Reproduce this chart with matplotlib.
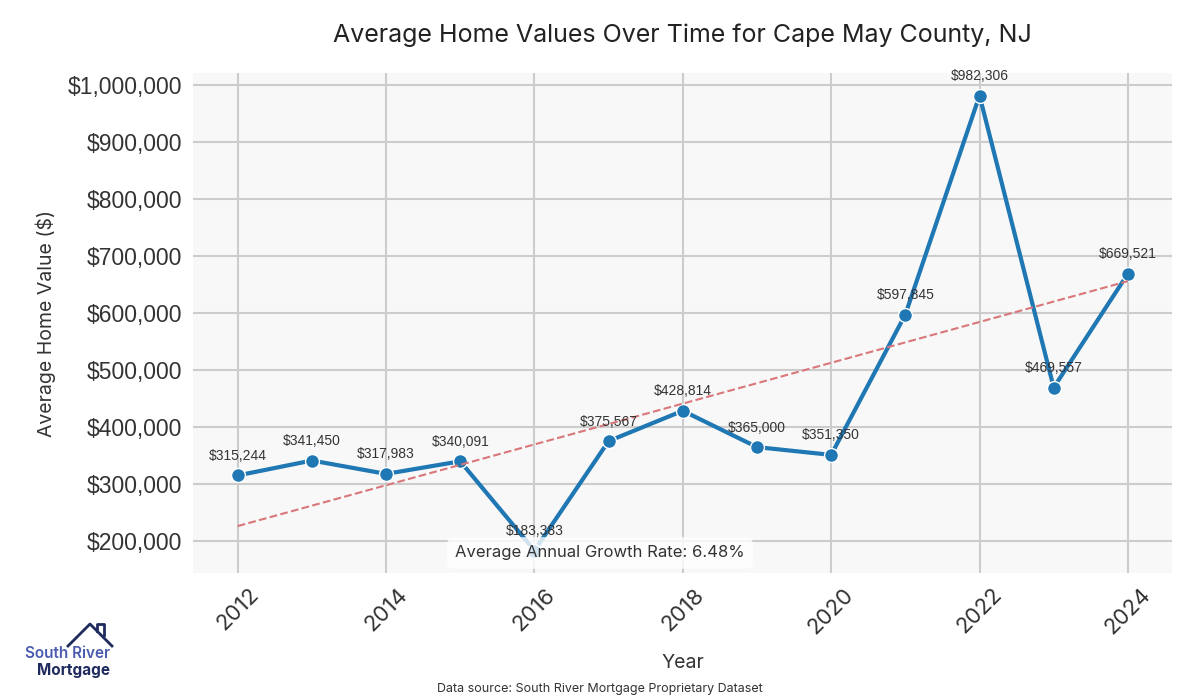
import numpy as np
import matplotlib
matplotlib.use('Agg')
import matplotlib.pyplot as plt
from matplotlib.ticker import FuncFormatter

years = [2012, 2013, 2014, 2015, 2016, 2017, 2018, 2019, 2020, 2021, 2022, 2023, 2024]
values = [315244, 341450, 317983, 340091, 183383, 375567, 428814, 365000, 351350,
          597845, 982306, 469557, 669521]

years = np.array(years)
values = np.array(values)

geo = ['Inter', 'DejaVu Sans']
arial = ['Liberation Sans', 'DejaVu Sans']
dark = '#333333'

fig = plt.figure(figsize=(12, 7), dpi=100)
ax = fig.add_axes([0.161, 0.181, 0.816, 0.715])
ax.set_facecolor('#f8f8f8')
for s in ax.spines.values():
    s.set_visible(False)
ax.grid(True, color='#cccccc', linewidth=1.5)
ax.set_axisbelow(True)

ax.plot(years, values, '-o', color='#1f77b4', linewidth=3, markersize=10,
        markeredgecolor='white', markeredgewidth=1, zorder=3)

# trend line
m, b = np.polyfit(years, values, 1)
ax.plot(years, m * years + b, '--', color='#d9777a', linewidth=1.5, zorder=4)

for x, y in zip(years, values):
    ax.annotate("${:,.0f}".format(y), (x, y), xytext=(0, 9), textcoords='offset points',
                ha='center', va='bottom', fontsize=10, color=dark, family=arial, zorder=5)

ax.yaxis.set_major_formatter(FuncFormatter(lambda v, p: "${:,.0f}".format(v)))
ax.set_xticks(range(2012, 2025, 2))
ax.tick_params(length=0)
for t in ax.get_yticklabels():
    t.set_fontsize(16.5)
    t.set_family(arial)
    t.set_color(dark)
for t in ax.get_xticklabels():
    t.set_fontsize(16)
    t.set_family(geo)
    t.set_rotation(45)
    t.set_color(dark)
ax.tick_params(axis='x', pad=8)
ax.tick_params(axis='y', pad=8)

ax.set_xlabel("Year", fontsize=14, family=geo, color=dark, labelpad=12)
ax.set_ylabel("Average Home Value ($)", fontsize=14, family=geo, color=dark, labelpad=8)
ax.set_title("Average Home Values Over Time for Cape May County, NJ", fontsize=18,
             family=geo, color='#222222', pad=22)

cagr = (values[-1] / values[0]) ** (1 / (len(values) - 1)) - 1
fig.text(0.5, 0.21, "Average Annual Growth Rate: {:.2f}%".format(cagr * 100),
         ha='center', va='center', fontsize=12, family=geo, color=dark, zorder=10,
         bbox=dict(boxstyle='round,pad=0.5', facecolor='white', edgecolor='none', alpha=0.8))

fig.text(0.5, 0.016, "Data source: South River Mortgage Proprietary Dataset",
         ha='center', va='center', fontsize=9, family=geo, color=dark)

# logo
navy = '#1f2a5e'
fig.add_artist(plt.Line2D([68 / 1200, 90 / 1200, 112 / 1200],
                          [1 - 646 / 700, 1 - 624 / 700, 1 - 646 / 700],
                          color=navy, linewidth=2, transform=fig.transFigure))
fig.add_artist(plt.Line2D([97 / 1200, 97 / 1200, 104 / 1200, 104 / 1200],
                          [1 - 631 / 700, 1 - 624 / 700, 1 - 624 / 700, 1 - 635 / 700],
                          color=navy, linewidth=2, transform=fig.transFigure))
fig.text(110 / 1200, 1 - 653 / 700, "South River", ha='right', va='center',
         fontsize=11, family=geo, weight='semibold', color='#4a5cb0')
fig.text(110 / 1200, 1 - 670 / 700, "Mortgage", ha='right', va='center',
         fontsize=11, family=geo, weight='bold', color=navy)

fig.savefig('out.png', dpi=100)
